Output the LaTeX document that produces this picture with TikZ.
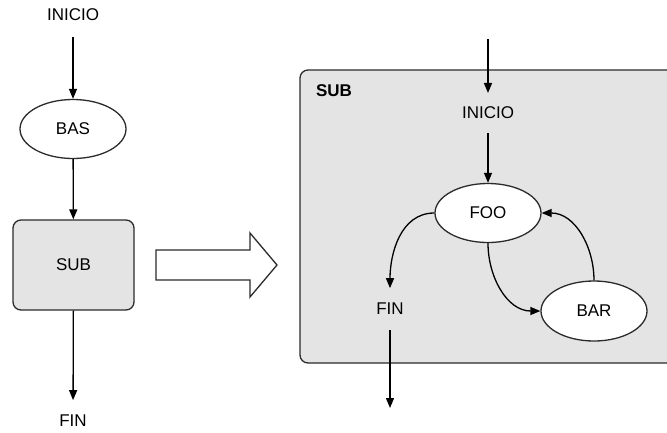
\documentclass[tikz,border=0pt]{standalone}
\usepackage{fontspec}
\setmainfont{Liberation Sans}
\usetikzlibrary{arrows.meta,shapes.geometric}

\definecolor{subgray}{HTML}{E4E4E4}
\definecolor{edge}{HTML}{2B2B2B}

\tikzset{
  arr/.style={line width=1.3pt,-{Triangle[length=10pt,width=8pt]}},
  state/.style={ellipse,draw=edge,line width=1.3pt,fill=white,minimum width=106pt,minimum height=59pt},
  lbl/.style={inner sep=0pt,outer sep=16pt},
  box/.style={draw=edge,line width=1.3pt,fill=subgray,rounded corners=8pt}
}

\begin{document}
\begin{tikzpicture}[x=1pt,y=-1pt,font=\fontsize{17}{20}\selectfont]
\useasboundingbox (0,0) rectangle (667,432);
\clip (0,0) rectangle (667,432);

% left flow
\node[lbl] (ini) at (73,15) {INICIO};
\node[state] (bas) at (73,129) {BAS};
\node[box,minimum width=121pt,minimum height=90pt] (sub) at (73.5,265) {SUB};
\node[lbl,outer sep=15pt] (fin) at (73,421) {FIN};

\draw[arr] (ini) -- (bas);
\draw[arr] (bas) -- (sub);
\draw[arr] (sub) -- (fin);

% big arrow
\draw[line width=1.3pt,draw=edge,fill=white]
  (156,250) -- (250,250) -- (250,233) -- (277,265)
  -- (250,297) -- (250,280) -- (156,280) -- cycle;

% expanded SUB
\draw[box] (300,70) rectangle (720,363);
\node[font=\fontsize{17}{20}\selectfont\bfseries] (subt) at (334,91) {SUB};

\coordinate (in) at (488,39);
\node[lbl,outer sep=14pt] (ini2) at (488,113) {INICIO};
\node[state] (foo) at (488,213) {FOO};
\node[state,minimum height=60pt] (bar) at (594,311) {BAR};
\node[lbl,outer sep=15pt] (fin2) at (390,309) {FIN};
\coordinate (out) at (390,408);

\draw[arr] (in) -- (ini2);
\draw[arr] (ini2) -- (foo);
\draw[arr] (foo.west) to[out=180,in=90] (fin2.north);
\draw[arr] (foo.south) to[out=-90,in=180] (bar.west);
\draw[arr] (bar.north) to[out=90,in=0] (foo.east);
\draw[arr] (fin2) -- (out);

\end{tikzpicture}
\end{document}
